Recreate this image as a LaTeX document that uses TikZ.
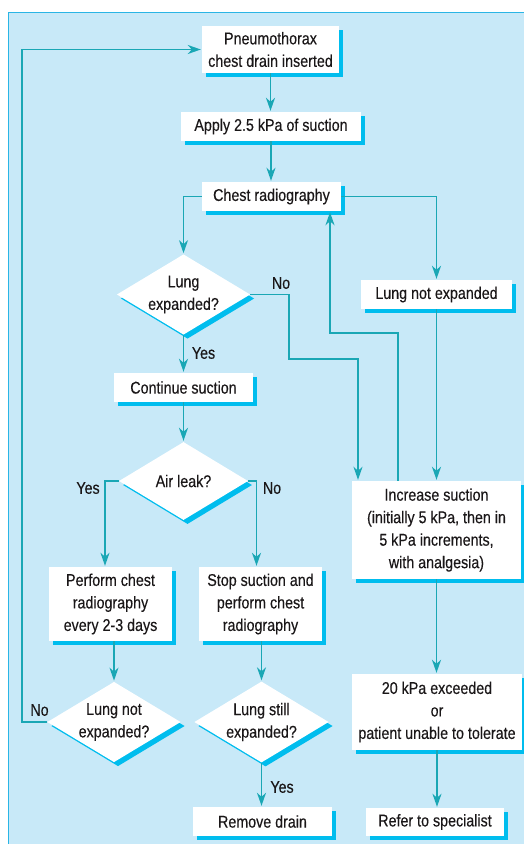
\documentclass[tikz,border=0pt]{standalone}
\usepackage{fontspec}
\setmainfont[FakeStretch=0.84,FakeBold=0.25]{Liberation Sans}
\usetikzlibrary{arrows.meta,shapes.geometric,shadows}
\definecolor{panelblue}{HTML}{C8E9F8}
\definecolor{panelline}{HTML}{2AB5E5}
\definecolor{flowline}{HTML}{1AA7B5}
\definecolor{shadowcyan}{HTML}{00BDEE}
\definecolor{inktext}{HTML}{1A1718}
\tikzset{
    flowbox/.style={fill=white, inner sep=0pt, align=center, text=inktext,
        font=\fontsize{17}{22.5}\selectfont,
        drop shadow={shadow xshift=4pt, shadow yshift=-4pt, fill=shadowcyan, opacity=1}},
    decision/.style={flowbox, diamond, aspect=1.66, minimum width=129pt, minimum height=78pt},
    arr/.style={draw=flowline, line width=1.5pt, shorten >=1pt,
        -{Stealth[length=13pt,width=9pt,inset=4pt]}},
    answer/.style={text=inktext, font=\fontsize{17}{20}\selectfont, inner sep=0pt}
}
\begin{document}
\begin{tikzpicture}[x=1pt, y=-1pt]
                \useasboundingbox (0,0) rectangle (523,844);
                \draw[panelline, fill=panelblue, line width=1pt] 
                    (8.5,12.5) rectangle (540,860);

                \node[flowbox, minimum width=137pt, minimum height=47pt] (pneu) 
                    at (270.5,49.5) {Pneumothorax\\chest drain inserted};
                \node[flowbox, minimum width=180pt, minimum height=29pt] (apply) 
                    at (271,126.5) {Apply 2.5 kPa of suction};
                \node[flowbox, minimum width=139pt, minimum height=29pt] (chest) 
                    at (271.5,196.5) {Chest radiography};
                \node[decision] (lexp) 
                    at (183.5,294.5) {Lung\\expanded?};
                \node[flowbox, minimum width=151pt, minimum height=29pt] (lnexp) 
                    at (436.5,294.5) {Lung not expanded};
                \node[flowbox, minimum width=139pt, minimum height=29pt] (cont) 
                    at (183.5,387.5) {Continue suction};
                \node[decision] (leak) 
                    at (183.5,481) {Air leak?};
                \node[flowbox, minimum width=123pt, minimum height=74pt] (perform) 
                    at (110.5,604) {Perform chest\\radiography\\every 2-3 days};
                \node[flowbox, minimum width=123pt, minimum height=74pt] (stop) 
                    at (260.5,604) {Stop suction and\\perform chest\\radiography};
                \node[flowbox, minimum width=169pt, minimum height=98pt] (incr) 
                    at (436.5,530) {Increase suction\\(initially 5 kPa, then in\\5 kPa increments,\\with analgesia)};
                \node[decision] (notexp) 
                    at (114,722) {Lung not\\expanded?};
                \node[decision] (still) 
                    at (261.5,722) {Lung still\\expanded?};
                \node[flowbox, minimum width=170pt, minimum height=76pt] (limit) 
                    at (437,712) {20 kPa exceeded\\or\\patient unable to tolerate};
                \node[flowbox, minimum width=139pt, minimum height=29pt] (remove) 
                    at (262.5,821.5) {Remove drain};
                \node[flowbox, minimum width=138pt, minimum height=28pt] (refer) 
                    at (435,822) {Refer to specialist};

                \draw[arr] (pneu.south) -- (pneu.south |- apply.north);
                \draw[arr] (apply.south) -- (apply.south |- chest.north);
                \draw[arr] (chest.west) -| (lexp.north);
                \draw[arr] (chest.east) -| (lnexp.north);
                \draw[arr] (lexp.east) -| (289,359) -| ([xshift=-78.5pt]incr.north);
                \draw[arr] ([xshift=-38.5pt]incr.north) |- (330,333) 
                    -- ([xshift=58.5pt]chest.south);
                \draw[arr] (lnexp.south) -- (lnexp.south |- incr.north);
                \draw[arr] (incr.south) -- (incr.south |- limit.north);
                \draw[arr] (limit.south) -- (limit.south |- refer.north);
                \draw[arr] (lexp.south) -- (cont.north);
                \draw[arr] (cont.south) -- (leak.north);
                \draw[arr] (leak.west) -| ([xshift=-5.5pt]perform.north);
                \draw[arr] (leak.east) -| ([xshift=-4pt]stop.north);
                \draw[arr] (notexp.north |- perform.south) -- (notexp.north);
                \draw[arr] (still.north |- stop.south) -- (still.north);
                \draw[arr] (still.south) -- (still.south |- remove.north);
                \draw[arr] (notexp.west) -- ++(-25,0) |- (pneu.west);

                \node[answer] (nolexp) at (281,283) {No};
                \node[answer] (yeslexp) at (203.5,353) {Yes};
                \node[answer] (yesleak) at (88,488) {Yes};
                \node[answer] (noleak) at (272,488) {No};
                \node[answer] (nonotexp) at (39.5,710) {No};
                \node[answer] (yesstill) at (282,787) {Yes};
            \end{tikzpicture}
\end{document}
